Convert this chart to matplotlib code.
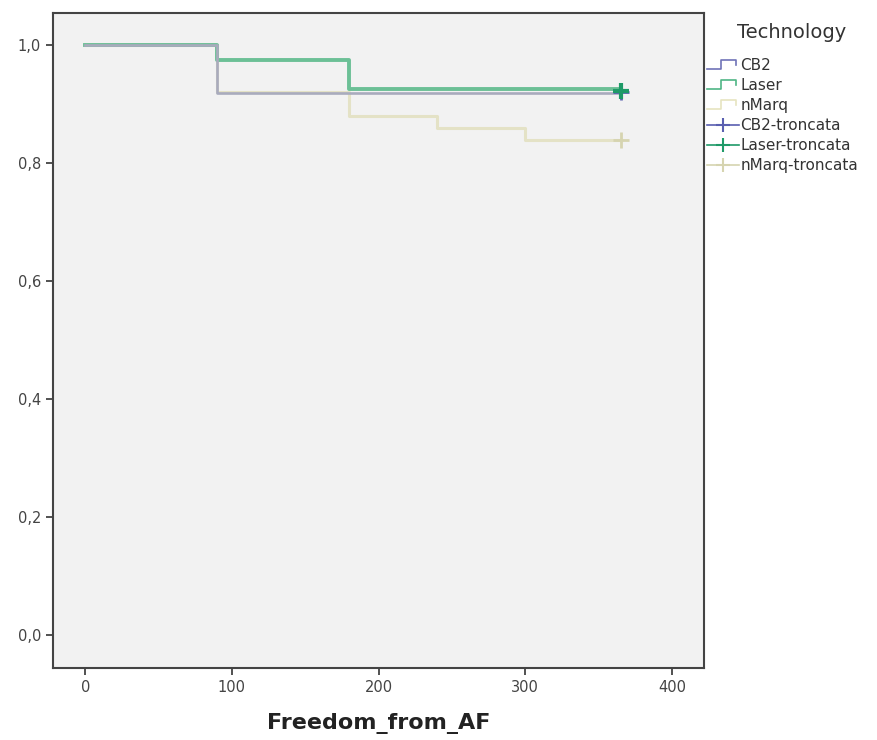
import matplotlib
matplotlib.use("Agg")
import matplotlib.pyplot as plt
from matplotlib.lines import Line2D
from matplotlib.legend_handler import HandlerBase
from matplotlib.ticker import FuncFormatter

# Data (Kaplan-Meier step functions)
cb2_t = [0, 90, 365]
cb2_s = [1.0, 0.919, 0.919]
laser_t = [0, 90, 180, 365]
laser_s = [1.0, 0.975, 0.926, 0.926]
nmarq_t = [0, 90, 180, 240, 300, 365]
nmarq_s = [1.0, 0.92, 0.88, 0.86, 0.84, 0.84]
cens_t = [365, 365, 365]
cens_s = [0.92, 0.922, 0.84]

names = ["CB2", "Laser", "nMarq"]
colors = ["#a9abbd", "#6cc096", "#e4e2c6"]
lws = [1.9, 2.8, 2.2]
legend_colors = ["#6f73b8", "#4fb585", "#e6e4c0"]
cens_colors = ["#5a5fb0", "#1f9a68", "#d6d4b0"]

fig = plt.figure(figsize=(8.77, 7.40), dpi=100)
ax = fig.add_axes([0.0604, 0.0973, 0.7426, 0.8847])
ax.set_facecolor("#f2f2f2")

series = [(cb2_t, cb2_s), (laser_t, laser_s), (nmarq_t, nmarq_s)]
zs = {2: 2, 1: 3, 0: 4}
for i in [2, 1, 0]:
    t, s = series[i]
    ax.step(t, s, where="post", color=colors[i], lw=lws[i], zorder=zs[i])
for i in [2, 0, 1]:
    ax.plot([cens_t[i]], [cens_s[i]], marker="+", color=cens_colors[i],
            ms=11, mew=3 if i == 1 else 2, ls="none", zorder=6)

ax.set_xlim(-22, 422)
ax.set_ylim(-0.056, 1.054)
ax.set_xticks([0, 100, 200, 300, 400])
ax.set_yticks([0.0, 0.2, 0.4, 0.6, 0.8, 1.0])
ax.yaxis.set_major_formatter(FuncFormatter(lambda v, p: f"{v:.1f}".replace(".", ",")))
ax.tick_params(axis="both", direction="out", length=5, width=1.2, color="#333333",
               labelsize=10.5, labelcolor="#444444")
for sp in ax.spines.values():
    sp.set_color("#444444")
    sp.set_linewidth(1.5)
ax.set_xlabel("Freedom_from_AF", fontsize=16, fontweight="bold", color="#222222", labelpad=13)


class StepHandler(HandlerBase):
    def create_artists(self, legend, orig_handle, xdescent, ydescent, width, height, fontsize, trans):
        w, h = width, height
        xs = [0, 0.45 * w, 0.45 * w, 0.9 * w, 0.9 * w]
        ys = [0.1 * h, 0.1 * h, 0.9 * h, 0.9 * h, 0.5 * h]
        l = Line2D([x - xdescent for x in xs], [y - ydescent for y in ys],
                   color=orig_handle.get_color(), lw=1.2)
        l.set_transform(trans)
        return [l]


step_handles = [Line2D([], [], color=c) for c in legend_colors]
cens_handles = [Line2D([], [], color=c, marker="+", ms=10, mew=1.5, lw=1.2)
                for c in cens_colors]
labels = names + [n + "-troncata" for n in names]
fig.text(792 / 877, 1 - 33 / 740, "Technology", fontsize=14, color="#333333",
         ha="center", va="center")
leg = fig.legend(step_handles + cens_handles, labels,
                 handler_map={h: StepHandler() for h in step_handles},
                 loc="upper left", bbox_to_anchor=(0.806, 1 - 58 / 740), frameon=False,
                 fontsize=11, handlelength=2.1, handletextpad=0.1, labelspacing=0.33,
                 borderaxespad=0, borderpad=0)
for txt in leg.get_texts():
    txt.set_color("#333333")

fig.savefig("out.png", dpi=100, facecolor="white")
